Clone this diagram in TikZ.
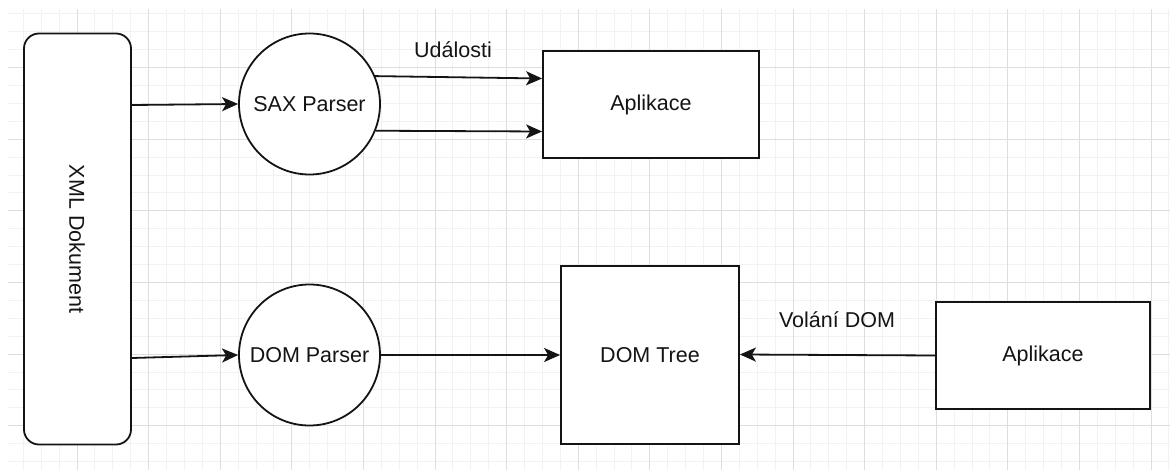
\documentclass[tikz,border=0pt]{standalone}
\usepackage{fontspec}
\setmainfont{Liberation Sans}
\usetikzlibrary{arrows.meta,calc}
\definecolor{gridmajor}{RGB}{222,222,222}
\definecolor{gridminor}{RGB}{242,242,242}
\definecolor{ink}{RGB}{20,20,20}
\begin{document}
\begin{tikzpicture}[x=1pt,y=-1pt,
  every node/.style={font=\fontsize{21.5}{26}\selectfont, text=ink},
  shapebox/.style={draw=ink, line width=1.8pt, fill=white, inner sep=0pt},
  roundbox/.style={shapebox, rectangle, rounded corners=15pt},
  parser/.style={shapebox, circle, minimum size=141pt},
  flow/.style={draw=ink, line width=1.8pt, -{Stealth[length=16pt,width=14pt,inset=4pt]}},
  lbl/.style={inner sep=0pt}]
  \useasboundingbox (0,0) rectangle (1170,470);
  \fill[white] (0,0) rectangle (1170,470);
  % background grid: minor lines every 17.9 units, major every fourth
  \begin{scope}
    \clip (8,10) rectangle (1170,470);
    \foreach \i in {-4,...,61} {
      \pgfmathsetmacro{\gx}{77+17.9*\i}
      \draw[gridminor, line width=1pt] (\gx,0) -- (\gx,470);
    }
    \foreach \i in {-4,...,23} {
      \pgfmathsetmacro{\gy}{67.7+17.9*\i}
      \draw[gridminor, line width=1pt] (0,\gy) -- (1170,\gy);
    }
    \foreach \i in {-1,...,15} {
      \pgfmathsetmacro{\gx}{77+71.6*\i}
      \draw[gridmajor, line width=1pt] (\gx,0) -- (\gx,470);
    }
    \foreach \i in {-1,...,6} {
      \pgfmathsetmacro{\gy}{67.7+71.6*\i}
      \draw[gridmajor, line width=1pt] (0,\gy) -- (1170,\gy);
    }
  \end{scope}

  % shapes
  \node[roundbox, minimum width=107pt, minimum height=411pt] (xml) at (77.5,239) {};
  \node[rotate=-90] (xmltext) at (77,239) {XML Dokument};
  \node[parser] (sax) at (309.5,104) {SAX Parser};
  \node[parser] (dp) at (309.5,355) {DOM Parser};
  \node[shapebox, minimum width=216pt, minimum height=107pt] (app1) at (651,104.5) {Aplikace};
  \node[shapebox, minimum width=178pt, minimum height=178pt] (tree) at (650,355) {DOM Tree};
  \node[shapebox, minimum width=214pt, minimum height=107pt] (app2) at (1043,355.5) {Aplikace};

  % labels
  \node[lbl] (events) at (453,50) {Události};
  \node[lbl] (calls) at (837,320) {Volání DOM};

  % connectors
  \draw[flow] ([yshift=134pt]xml.east) -- (sax.west);
  \draw[flow] ([yshift=-119pt]xml.east) -- (dp.west);
  \draw[flow] (sax.23) -- ([yshift=26pt]app1.west);
  \draw[flow] (sax.-22) -- ([yshift=-27pt]app1.west);
  \draw[flow] (dp.east) -- (tree.west);
  \draw[flow] (app2.west) -- ([yshift=0.5pt]tree.east);
\end{tikzpicture}
\end{document}
